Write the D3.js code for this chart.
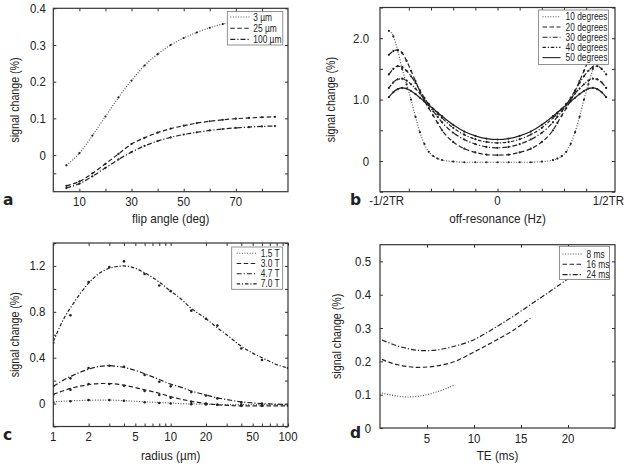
<!DOCTYPE html>
<html><head><meta charset="utf-8">
<script src="https://cdn.jsdelivr.net/npm/d3@7/dist/d3.min.js"></script>
<style>
body{margin:0;background:#fff;}
svg text{font-family:"Liberation Sans",Arial,sans-serif;fill:#222;}
</style></head>
<body><svg id="c" width="632" height="467"></svg>
<script>
// ---------- Panel a ----------
const aFlip = [5,10,15,20,25,30,35,40,45,50,55,60,65,70,75,80,85];
const a3um  = [-0.028,0.005,0.053,0.105,0.157,0.203,0.244,0.275,0.300,0.319,0.334,0.347,0.357,0.364,0.370,0.375,0.379];
const a25um = [-0.084,-0.072,-0.050,-0.024,0.003,0.030,0.047,0.061,0.072,0.080,0.087,0.092,0.096,0.099,0.101,0.103,0.104];
const a100um= [-0.090,-0.078,-0.058,-0.035,-0.012,0.008,0.025,0.038,0.048,0.056,0.062,0.067,0.071,0.074,0.076,0.078,0.079];
const aLegend = ["3 \u00b5m","25 \u00b5m","100 \u00b5m"];
const aXTicks = [10,20,30,40,50,60,70,80];
const aXLabels = [10,30,50,70];
const aYTicks = [-0.05,0,0.1,0.2,0.3,0.4];
const aYLabels = [0,0.1,0.2,0.3,0.4];

// ---------- Panel b ----------
const bOff = [-0.49,-0.47,-0.45,-0.43,-0.41,-0.39,-0.37,-0.35,-0.33,-0.31,-0.29,-0.27,-0.25,-0.2,-0.15,-0.1,-0.05,0,0.05,0.1,0.15,0.2,0.25,0.27,0.29,0.31,0.33,0.35,0.37,0.39,0.41,0.43,0.45,0.47,0.49];
const b10 = [2.12,2.03,1.80,1.50,1.25,1.00,0.72,0.47,0.28,0.15,0.08,0.04,0.015,-0.01,-0.02,-0.02,-0.02,-0.02,-0.02,-0.02,-0.02,-0.01,0.015,0.04,0.08,0.15,0.28,0.47,0.72,1.00,1.25,1.50,1.80,2.03,2.12];
const b20 = [1.73,1.79,1.81,1.76,1.63,1.47,1.30,1.14,0.98,0.86,0.74,0.62,0.50,0.31,0.20,0.14,0.105,0.095,0.105,0.14,0.20,0.31,0.50,0.62,0.74,0.86,0.98,1.14,1.30,1.47,1.63,1.76,1.81,1.79,1.73];
const b30 = [1.41,1.50,1.545,1.53,1.47,1.38,1.27,1.15,1.03,0.91,0.81,0.72,0.63,0.46,0.35,0.275,0.23,0.215,0.23,0.275,0.35,0.46,0.63,0.72,0.81,0.91,1.03,1.15,1.27,1.38,1.47,1.53,1.545,1.50,1.41];
const b40 = [1.19,1.28,1.33,1.34,1.31,1.25,1.18,1.10,1.01,0.93,0.85,0.77,0.70,0.54,0.43,0.355,0.31,0.295,0.31,0.355,0.43,0.54,0.70,0.77,0.85,0.93,1.01,1.10,1.18,1.25,1.31,1.34,1.33,1.28,1.19];
const b50 = [1.04,1.12,1.17,1.19,1.18,1.14,1.09,1.03,0.97,0.91,0.85,0.79,0.73,0.59,0.48,0.41,0.365,0.35,0.365,0.41,0.48,0.59,0.73,0.79,0.85,0.91,0.97,1.03,1.09,1.14,1.18,1.19,1.17,1.12,1.04];
const bLegend = ["10 degrees","20 degrees","30 degrees","40 degrees","50 degrees"];
const bXTicks = [-0.4,-0.3,-0.2,-0.1,0,0.1,0.2,0.3,0.4];
const bXLabelVals = [-0.5,0,0.5];
const bXLabelText = ["-1/2TR","0","1/2TR"];
const bYTicks = [-0.5,0,0.5,1,1.5,2,2.5];
const bYLabelVals = [0,1,2];
const bYLabelText = ["0","1.0","2.0"];

// ---------- Panel c ----------
const cFitR = [1,1.2,1.5,2,2.5,3,3.5,4,5,6,8,10,12,15,20,25,30,40,50,60,80,100];
const cFit15 = [0.015,0.02,0.025,0.028,0.03,0.03,0.028,0.025,0.02,0.015,0.01,0.005,0.0,-0.003,-0.006,-0.008,-0.01,-0.01,-0.01,-0.01,-0.01,-0.01];
const cFit30 = [0.08,0.11,0.14,0.165,0.175,0.175,0.17,0.16,0.14,0.12,0.09,0.06,0.04,0.02,0.0,-0.01,-0.015,-0.02,-0.02,-0.02,-0.02,-0.02];
const cFit47 = [0.15,0.2,0.25,0.3,0.325,0.33,0.325,0.315,0.29,0.26,0.21,0.17,0.145,0.11,0.075,0.05,0.035,0.015,0.005,0.0,-0.005,-0.01];
const cFit70 = [0.54,0.72,0.88,1.05,1.14,1.18,1.195,1.2,1.18,1.14,1.06,0.98,0.92,0.83,0.74,0.66,0.6,0.5,0.44,0.4,0.34,0.31];
const cPtR = [1,1.4,2,3,4,6,8,10,15,20,25,40,60,100];
const cPt15 = [0.01,0.02,0.03,0.03,0.025,0.012,0.005,0.0,-0.005,-0.008,-0.01,-0.01,-0.01,-0.01];
const cPt30 = [0.08,0.12,0.17,0.17,0.155,0.11,0.075,0.05,0.015,0.0,-0.01,-0.02,-0.02,-0.02];
const cPt47 = [0.15,0.22,0.31,0.33,0.32,0.25,0.19,0.15,0.10,0.07,0.045,0.01,0.0,-0.01];
const cPt70 = [0.53,0.77,1.06,1.19,1.24,1.13,1.03,0.98,0.81,0.74,0.68,0.48,0.38,0.31];
const cLegend = ["1.5 T","3.0 T","4.7 T","7.0 T"];
const cXLabels = [1,2,5,10,20,50,100];
const cXTicks = [1,2,3,4,5,6,7,8,9,10,20,30,40,50,60,70,80,90,100];
const cYTicks = [-0.2,0,0.2,0.4,0.6,0.8,1.0,1.2,1.4];
const cYLabels = [0,0.4,0.8,1.2];

// ---------- Panel d ----------
const dTE8  = [0.2,1,2,3,4,5,6,7,8];
const d8    = [0.105,0.100,0.095,0.093,0.095,0.100,0.108,0.118,0.130];
const dTE16 = [0.2,1,2,3,4,5,6,8,10,12,14,16];
const d16   = [0.206,0.197,0.189,0.184,0.182,0.183,0.186,0.200,0.228,0.258,0.290,0.329];
const dTE24 = [0.2,1,2,3,4,5,6,8,10,12,14,16,18,20,22,24];
const d24   = [0.264,0.255,0.245,0.238,0.233,0.232,0.234,0.246,0.265,0.297,0.332,0.370,0.408,0.448,0.490,0.535];
const dLegend = ["8 ms","16 ms","24 ms"];
const dXTicks = [5,10,15,20];
const dYTicks = [0,0.1,0.2,0.3,0.4,0.5];

const DOT = "1,1.6", DASH = "4.5,2.5", DASHDOT = "5,2,1.2,2", DASHDOT2 = "3.5,1.8,1.2,1.8";
const svg = d3.select("#c");
const fmt = v => v === 0 ? "0" : String(v);
const FS = 13, SX = 0.88, LFS = 10, LSX = 0.84;

function txt(g, x, y, s, fs, anchor, sx, rot) {
  return g.append("text")
    .attr("transform", `translate(${x},${y})` + (rot ? ` rotate(${rot})` : "") + ` scale(${sx},1)`)
    .attr("text-anchor", anchor).attr("dy", "0.35em").attr("font-size", fs).text(s);
}

function panel(o) {
  const g = svg.append("g");
  const x = (o.log ? d3.scaleLog() : d3.scaleLinear()).domain(o.xDomain).range([o.L, o.R]);
  const y = d3.scaleLinear().domain(o.yDomain).range([o.B, o.T]);
  const clipId = "clip" + o.letter;
  g.append("clipPath").attr("id", clipId).append("rect")
    .attr("x", o.L).attr("y", o.T).attr("width", o.R - o.L).attr("height", o.B - o.T);
  const plot = g.append("g").attr("clip-path", `url(#${clipId})`);
  const line = d3.line().x(d => x(d[0])).y(d => y(d[1])).curve(d3.curveMonotoneX);
  o.series.forEach(s => {
    const pts = s.x.map((v, i) => [v, s.y[i]]);
    plot.append("path").attr("d", line(pts)).attr("fill", "none")
      .attr("stroke", s.color || "#222").attr("stroke-width", s.w || 1.2)
      .attr("stroke-dasharray", s.dash);
    if (s.dots) plot.selectAll(null).data(pts).enter().append("circle")
      .attr("cx", d => x(d[0])).attr("cy", d => y(d[1])).attr("r", 1.1).attr("fill", "#222");
  });
  (o.scatter || []).forEach(sc => {
    plot.selectAll(null).data(sc.x.map((v, i) => [v, sc.y[i]])).enter().append("circle")
      .attr("cx", d => x(d[0])).attr("cy", d => y(d[1])).attr("r", 1.3).attr("fill", "#222");
  });
  const tl = 3;
  g.append("g").attr("transform", `translate(0,${o.B})`).call(d3.axisBottom(x).tickValues(o.xTicks).tickSize(-tl).tickFormat(""));
  g.append("g").attr("transform", `translate(0,${o.T})`).call(d3.axisTop(x).tickValues(o.xTicks).tickSize(-tl).tickFormat(""));
  g.append("g").attr("transform", `translate(${o.L},0)`).call(d3.axisLeft(y).tickValues(o.yTicks).tickSize(-tl).tickFormat(""));
  g.append("g").attr("transform", `translate(${o.R},0)`).call(d3.axisRight(y).tickValues(o.yTicks).tickSize(-tl).tickFormat(""));
  g.selectAll(".domain").remove();
  g.selectAll(".tick line").attr("stroke", "#333");
  g.append("rect").attr("x", o.L).attr("y", o.T).attr("width", o.R - o.L).attr("height", o.B - o.T)
    .attr("fill", "none").attr("stroke", "#333").attr("stroke-width", 1.2);
  o.xLabelVals.forEach((v, i) => txt(g, x(v), o.xLabY, o.xLabelText ? o.xLabelText[i] : fmt(v), FS, "middle", SX));
  o.yLabelVals.forEach((v, i) => txt(g, o.L - o.yLabGap, y(v), o.yLabelText ? o.yLabelText[i] : fmt(v), FS, "end", SX));
  txt(g, (o.L + o.R) / 2, o.xTitleY, o.xTitle, FS, "middle", 0.9);
  txt(g, o.yTitleX, (o.T + o.B) / 2, o.yTitle, FS, "middle", 0.82, -90);
  g.append("text").attr("x", o.letterX).attr("y", o.letterY).attr("font-size", 15.5)
    .attr("font-weight", "bold").style("font-family", "'DejaVu Sans', sans-serif").text(o.letter);
  const lg = o.legend;
  g.append("rect").attr("x", lg.x).attr("y", lg.y).attr("width", lg.w).attr("height", lg.h)
    .attr("fill", "#fff").attr("stroke", "#777").attr("stroke-width", 0.8);
  o.series.forEach((s, i) => {
    const yy = lg.y + lg.first + i * lg.step;
    g.append("line").attr("x1", lg.x + lg.s0).attr("x2", lg.x + lg.s1).attr("y1", yy).attr("y2", yy)
      .attr("stroke", s.color || "#222").attr("stroke-width", 1.1).attr("stroke-dasharray", s.dash);
    txt(g, lg.x + lg.tx, yy, o.legendText[i], LFS, "start", LSX);
  });
}

panel({letter:"a", L:53.3, R:288, T:8.3, B:191.7, xDomain:[0,90], yDomain:[-0.1,0.4],
  xTicks:aXTicks, xLabelVals:aXLabels, yTicks:aYTicks, yLabelVals:aYLabels, yLabGap:7.5,
  xLabY:201.5, xTitleY:218.5, xTitle:"flip angle (deg)", yTitle:"signal change (%)", yTitleX:14,
  letterX:3, letterY:205,
  series:[{x:aFlip,y:a3um,dash:DOT,dots:true,color:"#555"},{x:aFlip,y:a25um,dash:DASH,dots:true},{x:aFlip,y:a100um,dash:DASHDOT,dots:true}],
  legendText:aLegend, legend:{x:227.3,y:11.5,w:55.5,h:33.5,first:5.5,step:11.2,s0:3,s1:23,tx:26}});

panel({letter:"b", L:380, R:615, T:7.5, B:191.7, xDomain:[-0.53,0.53], yDomain:[-0.5,2.5],
  xTicks:bXTicks, xLabelVals:bXLabelVals, xLabelText:bXLabelText, yTicks:bYTicks, yLabelVals:bYLabelVals, yLabelText:bYLabelText, yLabGap:11,
  xLabY:200.5, xTitleY:218.5, xTitle:"off-resonance (Hz)", yTitle:"signal change (%)", yTitleX:330,
  letterX:350, letterY:204.5,
  series:[{x:bOff,y:b10,dash:DOT,dots:true,color:"#555"},{x:bOff,y:b20,dash:DASH,dots:true},{x:bOff,y:b30,dash:DASHDOT,dots:true},{x:bOff,y:b40,dash:DASHDOT2,dots:true},{x:bOff,y:b50,dots:true}],
  legendText:bLegend, legend:{x:538.5,y:10,w:70,h:54.5,first:6.8,step:10.2,s0:4,s1:22,tx:27}});

panel({letter:"c", L:53.3, R:288, T:243, B:426.5, log:true, xDomain:[1,100], yDomain:[-0.2,1.4],
  xTicks:cXTicks, xLabelVals:cXLabels, yTicks:cYTicks, yLabelVals:cYLabels, yLabGap:8,
  xLabY:436, xTitleY:455, xTitle:"radius (\u00b5m)", yTitle:"signal change (%)", yTitleX:14,
  letterX:3, letterY:440,
  series:[{x:cFitR,y:cFit15,dash:DOT,color:"#555"},{x:cFitR,y:cFit30,dash:DASH},{x:cFitR,y:cFit47,dash:DASHDOT},{x:cFitR,y:cFit70,dash:DASHDOT2}],
  scatter:[{x:cPtR,y:cPt15},{x:cPtR,y:cPt30},{x:cPtR,y:cPt47},{x:cPtR,y:cPt70}],
  legendText:cLegend, legend:{x:231.7,y:247,w:51,h:42.3,first:6.3,step:10.2,s0:5,s1:25,tx:29}});

panel({letter:"d", L:380, R:615, T:244.7, B:428, xDomain:[0,25], yDomain:[0,0.55],
  xTicks:dXTicks, xLabelVals:dXTicks, yTicks:dYTicks, yLabelVals:dYTicks, yLabGap:9,
  xLabY:438.5, xTitleY:455, xTitle:"TE (ms)", yTitle:"signal change (%)", yTitleX:336,
  letterX:350, letterY:438,
  series:[{x:dTE8,y:d8,dash:DOT,color:"#555"},{x:dTE16,y:d16,dash:DASH},{x:dTE24,y:d24,dash:DASHDOT}],
  legendText:dLegend, legend:{x:559.5,y:246.3,w:50,h:33.2,first:7.7,step:10.3,s0:3,s1:23,tx:27}});
</script></body></html>
